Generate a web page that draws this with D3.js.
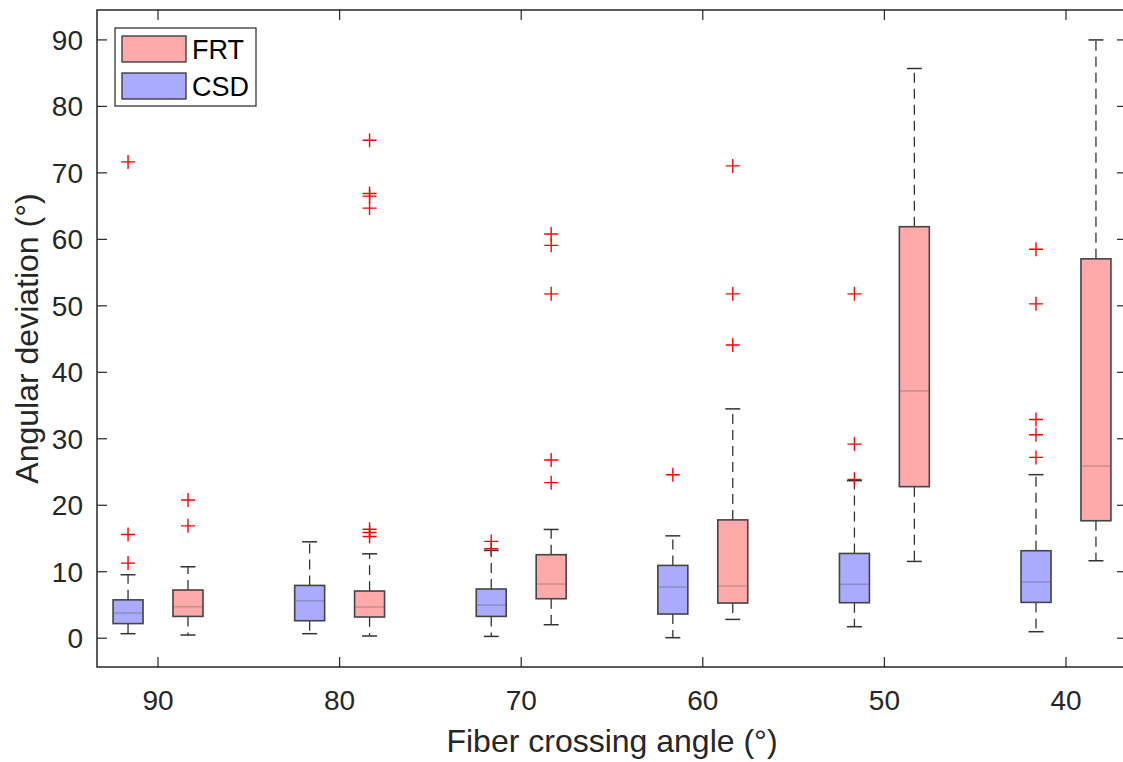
<!DOCTYPE html>
<html lang="en">
<head>
    <meta charset="UTF-8">
    <title>Angular deviation vs fiber crossing angle</title>
    <script src="https://d3js.org/d3.v7.min.js"></script>
    <style>
        body {
            margin: 0;
            background: #fff;
            font-family: "Liberation Sans", Arial, sans-serif;
        }
    </style>
</head>
<body>
    <svg id="chart"></svg>
    <script>
        // Crossing angles (x axis groups)
        const angles = [90, 80, 70, 60, 50, 40];
        const methods = ["FRT", "CSD"];
        const yTicks = [0, 10, 20, 30, 40, 50, 60, 70, 80, 90];

        // FRT box statistics per angle
        const frtLow = [0.48, 0.33, 2.03, 2.83, 11.55, 11.65];
        const frtQ1 = [3.28, 3.19, 5.94, 5.29, 22.8, 17.67];
        const frtMedian = [4.74, 4.69, 8.15, 7.85, 37.2, 25.9];
        const frtQ3 = [7.25, 7.1, 12.56, 17.8, 61.9, 57.07];
        const frtHigh = [10.75, 12.7, 16.36, 34.5, 85.7, 90.0];
        const frtOutliers = [
            [16.9, 20.8],
            [15.3, 15.9, 16.4, 64.7, 66.5, 66.9, 74.9],
            [23.4, 26.8, 51.8, 59.1, 60.8],
            [44.1, 51.8, 71.05],
            [],
            []
        ];

        // CSD box statistics per angle
        const csdLow = [0.68, 0.68, 0.27, 0.08, 1.73, 0.98];
        const csdQ1 = [2.2, 2.63, 3.28, 3.64, 5.34, 5.39];
        const csdMedian = [3.8, 5.64, 4.99, 7.7, 8.1, 8.45];
        const csdQ3 = [5.77, 7.94, 7.4, 10.95, 12.75, 13.16];
        const csdHigh = [9.55, 14.5, 13.2, 15.4, 23.7, 24.6];
        const csdOutliers = [
            [11.3, 15.6, 71.65],
            [],
            [13.46, 14.56],
            [24.6],
            [23.9, 29.2, 51.8],
            [27.2, 30.6, 32.9, 50.3, 58.5]
        ];

        const width = 1123;
        const height = 762;
        const margin = { left: 97, right: 1127, top: 10, bottom: 667 };

        const svg = d3.select("#chart")
            .attr("width", width)
            .attr("height", height);

        // Scales (x runs from high angle to low angle)
        const x = d3.scaleLinear().domain([93.36, 36.64]).range([margin.left, margin.right]);
        const y = d3.scaleLinear().domain([-4.33, 94.5]).range([margin.bottom, margin.top]);

        const colors = { FRT: "#ffaaaa", CSD: "#aaaaff" };
        const offset = { FRT: -1.65, CSD: 1.65 };
        const boxW = x(0) - x(1.65);
        const capW = boxW / 2;

        // Build rows for drawing
        const rows = [];
        angles.forEach((a, i) => {
            rows.push({ method: "CSD", angle: a, low: csdLow[i], q1: csdQ1[i], med: csdMedian[i],
                q3: csdQ3[i], high: csdHigh[i], out: csdOutliers[i] });
            rows.push({ method: "FRT", angle: a, low: frtLow[i], q1: frtQ1[i], med: frtMedian[i],
                q3: frtQ3[i], high: frtHigh[i], out: frtOutliers[i] });
        });

        const plot = svg.append("g");

        const box = plot.selectAll("g.box")
            .data(rows)
            .enter()
            .append("g")
            .attr("class", "box")
            .attr("transform", d => `translate(${x(d.angle + offset[d.method])},0)`);

        // Whiskers (dashed)
        box.append("line")
            .attr("x1", 0).attr("x2", 0)
            .attr("y1", d => y(d.q3)).attr("y2", d => y(d.high))
            .attr("stroke", "#333").attr("stroke-width", 1.3)
            .attr("stroke-dasharray", "10,6");
        box.append("line")
            .attr("x1", 0).attr("x2", 0)
            .attr("y1", d => y(d.q1)).attr("y2", d => y(d.low))
            .attr("stroke", "#333").attr("stroke-width", 1.3)
            .attr("stroke-dasharray", "10,6");

        // Caps
        box.append("line")
            .attr("x1", -capW / 2).attr("x2", capW / 2)
            .attr("y1", d => y(d.high)).attr("y2", d => y(d.high))
            .attr("stroke", "#333").attr("stroke-width", 1.5);
        box.append("line")
            .attr("x1", -capW / 2).attr("x2", capW / 2)
            .attr("y1", d => y(d.low)).attr("y2", d => y(d.low))
            .attr("stroke", "#333").attr("stroke-width", 1.5);

        // Boxes
        box.append("rect")
            .attr("x", -boxW / 2)
            .attr("width", boxW)
            .attr("y", d => y(d.q3))
            .attr("height", d => y(d.q1) - y(d.q3))
            .attr("fill", d => colors[d.method])
            .attr("stroke", "#444")
            .attr("stroke-width", 1.6);

        // Medians
        box.append("line")
            .attr("x1", -boxW / 2).attr("x2", boxW / 2)
            .attr("y1", d => y(d.med)).attr("y2", d => y(d.med))
            .attr("stroke", "rgba(90,90,90,0.35)").attr("stroke-width", 1.5);

        // Outliers as red plus markers
        box.selectAll("path.out")
            .data(d => d.out)
            .enter()
            .append("path")
            .attr("class", "out")
            .attr("d", v => `M-7,${y(v)}H7M0,${y(v) - 7}V${y(v) + 7}`)
            .attr("stroke", "#ff0000")
            .attr("stroke-width", 1.4)
            .attr("fill", "none");

        // Axes frame
        const axisColor = "#262626";
        svg.append("rect")
            .attr("x", margin.left).attr("y", margin.top)
            .attr("width", margin.right - margin.left)
            .attr("height", margin.bottom - margin.top)
            .attr("fill", "none")
            .attr("stroke", axisColor)
            .attr("stroke-width", 1.5);

        // Ticks on all four sides (inside)
        const tickLen = 10;
        const ticks = svg.append("g").attr("stroke", axisColor).attr("stroke-width", 1.2);
        angles.forEach(a => {
            ticks.append("line").attr("x1", x(a)).attr("x2", x(a))
                .attr("y1", margin.bottom).attr("y2", margin.bottom - tickLen);
            ticks.append("line").attr("x1", x(a)).attr("x2", x(a))
                .attr("y1", margin.top).attr("y2", margin.top + tickLen);
        });
        yTicks.forEach(t => {
            ticks.append("line").attr("x1", margin.left).attr("x2", margin.left + tickLen)
                .attr("y1", y(t)).attr("y2", y(t));
            ticks.append("line").attr("x1", margin.right).attr("x2", margin.right - tickLen)
                .attr("y1", y(t)).attr("y2", y(t));
        });

        // Tick labels
        svg.append("g").selectAll("text")
            .data(angles)
            .enter()
            .append("text")
            .attr("x", d => x(d))
            .attr("y", 710)
            .attr("text-anchor", "middle")
            .attr("font-size", 28)
            .attr("fill", "#262626")
            .text(d => d);

        svg.append("g").selectAll("text")
            .data(yTicks)
            .enter()
            .append("text")
            .attr("x", 83)
            .attr("y", d => y(d) + 10)
            .attr("text-anchor", "end")
            .attr("font-size", 28)
            .attr("fill", "#262626")
            .text(d => d);

        // Axis titles
        svg.append("text")
            .attr("x", (margin.left + margin.right) / 2)
            .attr("y", 752)
            .attr("text-anchor", "middle")
            .attr("font-size", 32)
            .attr("fill", "#262626")
            .text("Fiber crossing angle (°)");

        svg.append("text")
            .attr("transform", `translate(38,${(margin.top + margin.bottom) / 2}) rotate(-90)`)
            .attr("text-anchor", "middle")
            .attr("font-size", 32)
            .attr("fill", "#262626")
            .text("Angular deviation (°)");

        // Legend
        const legend = svg.append("g");
        legend.append("rect")
            .attr("x", 115).attr("y", 28)
            .attr("width", 141).attr("height", 78)
            .attr("fill", "#fff")
            .attr("stroke", "#262626")
            .attr("stroke-width", 1.2);
        methods.forEach((m, i) => {
            legend.append("rect")
                .attr("x", 122).attr("y", 36 + i * 37)
                .attr("width", 64).attr("height", 26)
                .attr("fill", colors[m])
                .attr("stroke", "#333")
                .attr("stroke-width", 1.3);
            legend.append("text")
                .attr("x", 192).attr("y", 59 + i * 37)
                .attr("font-size", 27)
                .attr("fill", "#000")
                .text(m);
        });
    </script>
</body>
</html>
